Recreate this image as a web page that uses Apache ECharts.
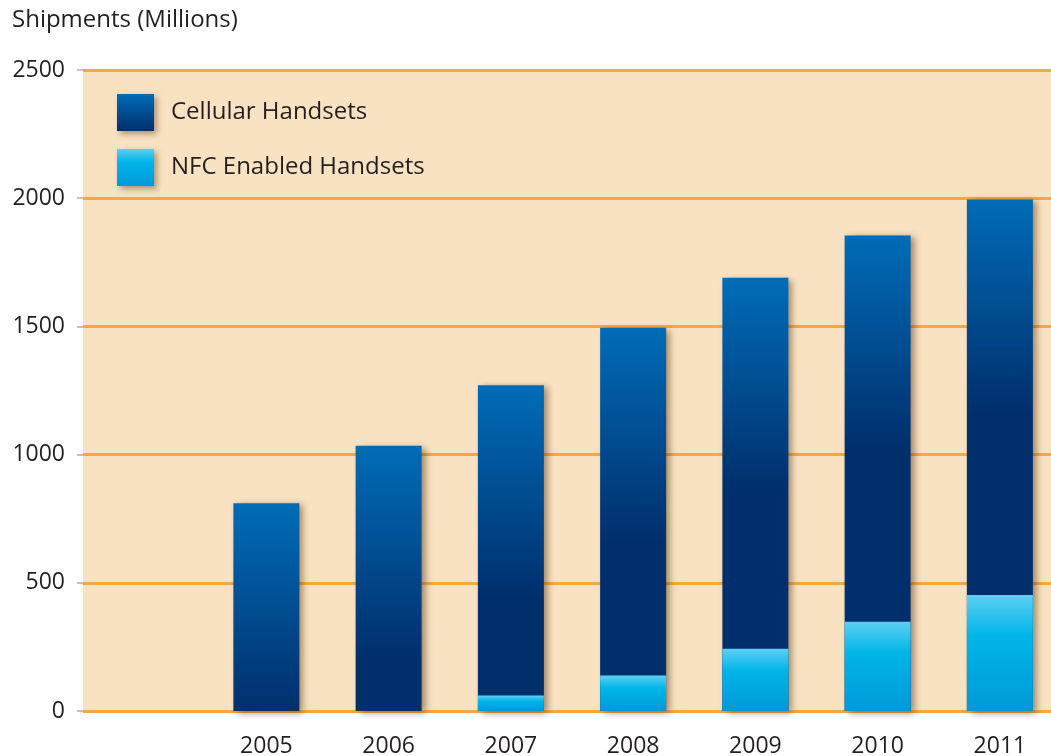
<!DOCTYPE html>
<html>
<head>
<meta charset="utf-8">
<script src="https://cdn.jsdelivr.net/npm/echarts@6/dist/echarts.min.js"></script>
<style>
  html, body { margin: 0; padding: 0; background: #fff; }
  #chart { width: 1051px; height: 756px; }
</style>
</head>
<body>
<div id="chart"></div>
<script>
  // data
  const categories = ['', '2005', '2006', '2007', '2008', '2009', '2010', '2011']
  const cellular = [null, 810, 1035, 1270, 1495, 1690, 1855, 1995]
  const nfc = [null, null, null, 60, 138, 243, 348, 452]
  const yTicks = [0, 500, 1000, 1500, 2000, 2500]

  const FONT = 'Open Sans'
  const TOP_BLUE = '#006cb7'
  const NAVY = '#002f6c'

  // cellular gradient runs a fixed height from the bar top, then stays navy
  function cellColor (stop) {
    return {
      type: 'linear', x: 0, y: 0, x2: 0, y2: 1,
      colorStops: [
        { offset: 0, color: TOP_BLUE },
        { offset: stop, color: NAVY },
        { offset: 1, color: NAVY }
      ]
    }
  }
  const nfcColor = {
    type: 'linear', x: 0, y: 0, x2: 0, y2: 1,
    colorStops: [
      { offset: 0, color: '#5dd0f4' },
      { offset: 0.35, color: '#00b5e8' },
      { offset: 1, color: '#0099d8' }
    ]
  }

  const chart = echarts.init(document.getElementById('chart'))
  const option = {
    backgroundColor: '#ffffff',
    animation: false,
    title: {
      text: 'Shipments (Millions)',
      left: 7,
      top: 3,
      textStyle: { fontFamily: FONT, fontSize: 24, fontWeight: 'normal', color: '#231f20' }
    },
    legend: {
      left: 112,
      top: 89,
      orient: 'vertical',
      itemWidth: 37,
      itemHeight: 37,
      itemGap: 18,
      icon: 'rect',
      textStyle: { fontFamily: FONT, fontSize: 24, color: '#231f20', padding: [0, 0, 0, 12] },
      itemStyle: { shadowBlur: 6, shadowOffsetX: 3, shadowOffsetY: 3, shadowColor: 'rgba(80,50,20,0.45)' },
      data: ['Cellular Handsets', 'NFC Enabled Handsets']
    },
    grid: {
      left: 83,
      right: -10,
      top: 70,
      bottom: 45,
      outerBoundsMode: 'none',
      show: true,
      backgroundColor: '#f9e2c2',
      borderWidth: 0
    },
    xAxis: {
      type: 'category',
      data: categories,
      axisLine: { show: false },
      axisTick: { show: false },
      axisLabel: { fontFamily: FONT, fontSize: 23, color: '#231f20', margin: 24 }
    },
    yAxis: {
      type: 'value',
      min: yTicks[0],
      max: yTicks[yTicks.length - 1],
      interval: 500,
      axisLine: { show: false },
      axisTick: { show: true, length: 6, lineStyle: { color: '#b7c6d6', width: 2 } },
      axisLabel: { fontFamily: FONT, fontSize: 23, color: '#231f20', margin: 18, formatter: v => String(v) },
      splitLine: { lineStyle: { color: '#f6a83e', width: 3 } }
    },
    series: [
      {
        name: 'Cellular Handsets',
        type: 'bar',
        barWidth: 66,
        barGap: '-100%',
        itemStyle: {
          color: cellColor(1),
          shadowBlur: 7,
          shadowOffsetX: 4,
          shadowOffsetY: 2,
          shadowColor: 'rgba(70,40,10,0.5)'
        },
        data: cellular.map(v => v == null ? null : {
          value: v,
          itemStyle: { color: cellColor(Math.min(1, 830 / v)) }
        }),
        z: 2
      },
      {
        name: 'NFC Enabled Handsets',
        type: 'bar',
        barWidth: 66,
        barGap: '-100%',
        itemStyle: { color: nfcColor },
        data: nfc,
        z: 3
      }
    ]
  }
  chart.setOption(option)
</script>
</body>
</html>
